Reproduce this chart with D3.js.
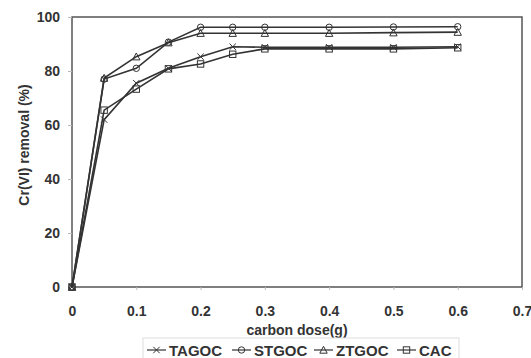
<!DOCTYPE html>
<html>
<head>
<meta charset="utf-8">
<script src="https://cdn.jsdelivr.net/npm/d3@7"></script>
<style>
  body { margin: 0; background: #fff; }
  svg { font-family: "Liberation Sans", Arial, sans-serif; }
</style>
</head>
<body>
<svg id="chart" width="531" height="358"></svg>
<script>
const doses = [0, 0.05, 0.1, 0.15, 0.2, 0.25, 0.3, 0.4, 0.5, 0.6];
const tagoc = [0, 62, 75.5, 81, 85.3, 89, 88.8, 88.8, 88.8, 89];
const stgoc = [0, 77, 81, 90.7, 96.2, 96.2, 96.2, 96.2, 96.3, 96.4];
const ztgoc = [0, 77.4, 85.3, 90.5, 94, 94, 94, 94, 94.2, 94.4];
const cac = [0, 65.5, 73.3, 80.8, 82.6, 86.2, 88.2, 88.2, 88.2, 88.6];
const seriesNames = ['TAGOC', 'STGOC', 'ZTGOC', 'CAC'];
const xTicks = [0, 0.1, 0.2, 0.3, 0.4, 0.5, 0.6, 0.7];
const yTicks = [0, 20, 40, 60, 80, 100];

const series = [
  { name: seriesNames[0], values: tagoc, marker: 'x' },
  { name: seriesNames[1], values: stgoc, marker: 'circle' },
  { name: seriesNames[2], values: ztgoc, marker: 'triangle' },
  { name: seriesNames[3], values: cac, marker: 'square' }
];

const svg = d3.select('#chart');
const margin = { top: 17, right: 9, bottom: 71, left: 72 };
const width = 531, height = 358;

const x = d3.scaleLinear().domain([0, 0.7]).range([margin.left, width - margin.right]);
const y = d3.scaleLinear().domain([0, 100]).range([height - margin.bottom, margin.top]);

const ink = '#333';
const fontSize = '14px';

// plot frame
svg.append('rect')
  .attr('x', x(0)).attr('y', y(100))
  .attr('width', x(0.7) - x(0)).attr('height', y(0) - y(100))
  .attr('fill', 'none').attr('stroke', '#555').attr('stroke-width', 1.5);

// axes
const xAxis = svg.append('g')
  .attr('transform', `translate(0,${y(0)})`)
  .call(d3.axisBottom(x).tickValues(xTicks).tickSize(3).tickPadding(16)
    .tickFormat(d => d === 0 ? '0' : d3.format('.1f')(d)));
const yAxis = svg.append('g')
  .attr('transform', `translate(${x(0)},0)`)
  .call(d3.axisLeft(y).tickValues(yTicks).tickSize(4).tickPadding(8));

[xAxis, yAxis].forEach(g => {
  g.select('.domain').remove();
  g.selectAll('line').attr('stroke', '#bbb');
  g.selectAll('text')
    .attr('fill', ink)
    .style('font-size', fontSize)
    .style('font-weight', 'bold')
    .style('font-family', '"Liberation Sans", Arial, sans-serif');
});

// axis titles
svg.append('text')
  .attr('x', (x(0) + x(0.7)) / 2).attr('y', 335)
  .attr('text-anchor', 'middle')
  .attr('fill', ink)
  .style('font-size', fontSize).style('font-weight', 'bold')
  .text('carbon dose(g)');

svg.append('text')
  .attr('transform', `translate(29,145) rotate(-90)`)
  .attr('text-anchor', 'middle')
  .attr('fill', ink)
  .style('font-size', fontSize).style('font-weight', 'bold')
  .text('Cr(VI) removal (%)');

function drawMarker(g, type, cx, cy) {
  const s = 3.2;
  if (type === 'circle') {
    g.append('circle').attr('cx', cx).attr('cy', cy).attr('r', s)
      .attr('fill', 'none').attr('stroke', ink).attr('stroke-width', 1);
  } else if (type === 'square') {
    g.append('rect').attr('x', cx - s).attr('y', cy - s)
      .attr('width', 2 * s).attr('height', 2 * s)
      .attr('fill', 'none').attr('stroke', ink).attr('stroke-width', 1);
  } else if (type === 'triangle') {
    g.append('path')
      .attr('d', `M${cx},${cy - s - 0.5}L${cx + s + 0.5},${cy + s}L${cx - s - 0.5},${cy + s}Z`)
      .attr('fill', 'none').attr('stroke', ink).attr('stroke-width', 1);
  } else {
    g.append('path')
      .attr('d', `M${cx - s},${cy - s}L${cx + s},${cy + s}M${cx - s},${cy + s}L${cx + s},${cy - s}`)
      .attr('fill', 'none').attr('stroke', ink).attr('stroke-width', 1);
  }
}

const line = d3.line().x((d, i) => x(doses[i])).y(d => y(d));

series.forEach(s => {
  const g = svg.append('g');
  g.append('path')
    .datum(s.values)
    .attr('d', line)
    .attr('fill', 'none')
    .attr('stroke', ink)
    .attr('stroke-width', 1.6);
  s.values.forEach((v, i) => drawMarker(g, s.marker, x(doses[i]), y(v)));
});

// legend
const legend = svg.append('g');
legend.append('rect')
  .attr('x', 143).attr('y', 338).attr('width', 316).attr('height', 24)
  .attr('fill', '#fff').attr('stroke', '#ddd');
const legendX = [147, 232, 314, 397];
series.forEach((s, i) => {
  const lx = legendX[i], ly = 350;
  legend.append('line')
    .attr('x1', lx).attr('x2', lx + 19).attr('y1', ly).attr('y2', ly)
    .attr('stroke', ink).attr('stroke-width', 1.2);
  drawMarker(legend, s.marker, lx + 9.5, ly);
  legend.append('text')
    .attr('x', lx + 22).attr('y', ly + 5.5)
    .attr('fill', ink)
    .style('font-size', '15px').style('font-weight', 'bold')
    .text(s.name);
});
</script>
</body>
</html>
